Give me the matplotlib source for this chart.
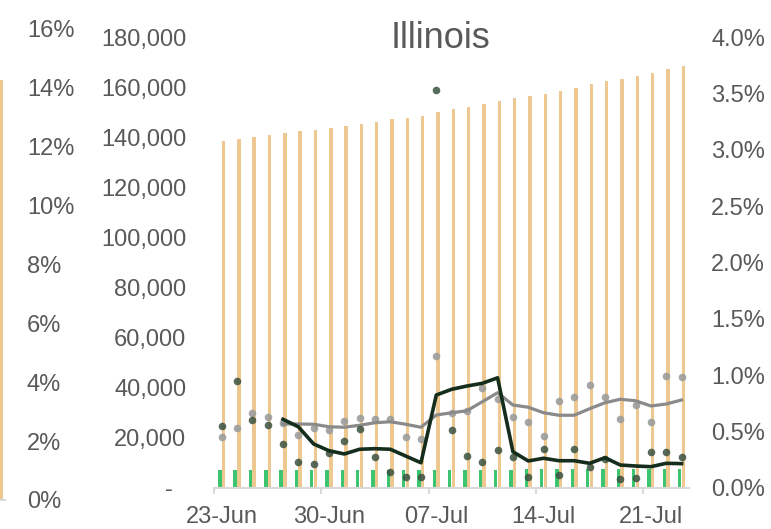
import matplotlib
matplotlib.use('Agg')
import matplotlib.pyplot as plt
import numpy as np
import pandas as pd

plt.rcParams['font.family'] = ['Liberation Sans', 'DejaVu Sans']

# ---------------- data ----------------
categories = list(pd.date_range('2020-06-23', '2020-07-23').strftime('%d-%b'))
tick_labels = ['23-Jun', '30-Jun', '07-Jul', '14-Jul', '21-Jul']

# cumulative cases (thousands, left axis)
cumulative = [138.5, 139.3, 140.2, 140.9, 141.7, 142.5, 143.0, 143.8, 144.6, 145.4,
              146.3, 147.4, 147.9, 148.6, 150.2, 151.3, 152.2, 153.5, 154.7, 155.8,
              156.6, 157.3, 158.7, 159.8, 161.3, 162.6, 163.4, 164.6, 165.7, 167.3, 168.7]
# green bars (thousands, left axis)
green_vals = [7.0, 7.0, 7.0, 7.0, 7.0, 7.0, 7.0, 7.0, 7.0, 7.0,
              7.0, 7.0, 7.0, 7.0, 7.2, 7.2, 7.2, 7.2, 7.2, 7.2,
              7.3, 7.4, 7.4, 7.5, 7.5, 7.5, 7.6, 7.6, 7.6, 7.6, 7.6]
# grey dots (thousands, left axis)
grey_daily = [20.1, 23.7, 29.8, 28.2, 25.7, 20.9, 23.8, 23.0, 26.5, 27.7,
              27.4, 27.5, 20.1, 19.3, 52.6, 29.9, 30.7, 39.9, 35.3, 28.2,
              26.2, 20.7, 34.6, 36.3, 40.9, 36.1, 27.4, 32.9, 26.3, 44.6, 44.3]
# grey line (thousands, left axis), starting at the 5th day
grey_avg = [25.4, 25.4, 25.3, 24.3, 24.1, 24.9, 25.9, 26.3, 25.3, 24.1,
            29.0, 29.9, 30.7, 34.3, 37.9, 33.0, 32.1, 29.9, 28.9, 28.9,
            31.5, 33.9, 35.3, 34.7, 32.6, 33.4, 35.0]
# dark dots (percent, right axis)
dark_daily = [0.547, 0.949, 0.597, 0.553, 0.389, 0.227, 0.212, 0.309, 0.416, 0.523,
              0.268, 0.135, 0.093, 0.093, 3.533, 0.508, 0.283, 0.227, 0.333, 0.268,
              0.091, 0.345, 0.114, 0.345, 0.180, 0.256, 0.078, 0.087, 0.316, 0.316, 0.274]
# dark line (percent, right axis), starting at the 5th day
dark_avg = [0.606, 0.540, 0.387, 0.327, 0.298, 0.340, 0.345, 0.340, 0.280, 0.220,
            0.822, 0.873, 0.902, 0.926, 0.975, 0.318, 0.236, 0.260, 0.238, 0.238,
            0.215, 0.265, 0.200, 0.191, 0.185, 0.215, 0.212]
avg_start = 4

# neighbouring chart remnant (left edge)
left_chart_bar = [14.25]

# ---------------- style ----------------
ORANGE = '#EDC890'
GREEN = '#3CC46E'
GREY_DOT = '#9c9c9c'
GREY_LINE = '#8a8a8a'
DARK_DOT = '#3a5140'
DARK_LINE = '#142d1c'
TXT = '#595959'
AXLINE = '#d9d9d9'
FS = 17

W, H = 771, 529
fig = plt.figure(figsize=(W / 100, H / 100), dpi=100)

def px_rect(x0, y_top, x1, y_bot):
    return [x0 / W, (H - y_bot) / H, (x1 - x0) / W, (y_bot - y_top) / H]

# ---- remnant of neighbouring chart ----
axl = fig.add_axes(px_rect(-95, 28.5, 5, 500))
axl.set_xlim(0, 1)
axl.set_ylim(0, 16)
axl.bar([0.96], left_chart_bar, width=0.035, color=ORANGE)
for s in ['left', 'top', 'right']:
    axl.spines[s].set_visible(False)
axl.spines['bottom'].set_color(AXLINE)
axl.spines['bottom'].set_linewidth(1.5)
axl.set_xticks([])
axl.yaxis.tick_right()
axl.set_yticks(np.arange(0, 17, 2))
axl.set_yticklabels([f'{v}%' for v in range(0, 17, 2)])
axl.tick_params(axis='y', length=0, pad=15.8, labelsize=FS, labelcolor=TXT)
axl.patch.set_alpha(0)

# ---- main chart ----
n = len(categories)
x = np.arange(n) + 0.5
ax = fig.add_axes(px_rect(214, 37.5, 214 + 31 * 15.33, 487.5))
ax.set_xlim(0, n)
ax.set_ylim(0, 180)
ax.bar(x - 0.12, green_vals, width=0.22, color=GREEN, zorder=2)
ax.bar(x + 0.12, cumulative, width=0.22, color=ORANGE, zorder=2)
ax.scatter(x, grey_daily, s=30, color=GREY_DOT, alpha=0.9, linewidths=0, zorder=3)
ax.plot(x[avg_start:], grey_avg, color=GREY_LINE, lw=2.3, zorder=4, solid_joinstyle='round')

for s in ['left', 'top', 'right']:
    ax.spines[s].set_visible(False)
ax.spines['bottom'].set_color(AXLINE)
ax.spines['bottom'].set_linewidth(1.5)
ax.set_yticks(np.arange(0, 181, 20))
ax.set_yticklabels(['-  '] + [f'{v*1000:,.0f}' for v in range(20, 181, 20)])
ax.tick_params(axis='y', length=0, pad=20, labelsize=FS, labelcolor=TXT)
ax.set_xticks([0, 7, 14, 21, 28])
ax.set_xticklabels([])
ax.set_xticks([0.5, 7.5, 14.5, 21.5, 28.5], tick_labels, minor=True)
ax.tick_params(axis='x', which='major', length=4.5, width=1.5, color=AXLINE)
ax.tick_params(axis='x', which='minor', length=0, pad=13.5, labelsize=FS, labelcolor=TXT)

ax2 = ax.twinx()
ax2.set_ylim(0, 4)
ax2.scatter(x, dark_daily, s=30, color=DARK_DOT, alpha=0.85, linewidths=0, zorder=3)
ax2.plot(x[avg_start:], dark_avg, color=DARK_LINE, lw=2.6, zorder=5, solid_joinstyle='round')
for s in ['left', 'top', 'right', 'bottom']:
    ax2.spines[s].set_visible(False)
ax2.set_yticks(np.arange(0, 4.01, 0.5))
ax2.set_yticklabels([f'{v:.1f}%' for v in np.arange(0, 4.01, 0.5)])
ax2.tick_params(axis='y', length=0, pad=15.7, labelsize=FS, labelcolor=TXT)

fig.text(440 / W, (H - 47.7) / H, 'Illinois', ha='center', va='baseline',
         fontsize=26, color=TXT)

fig.savefig('out.png', dpi=100)
